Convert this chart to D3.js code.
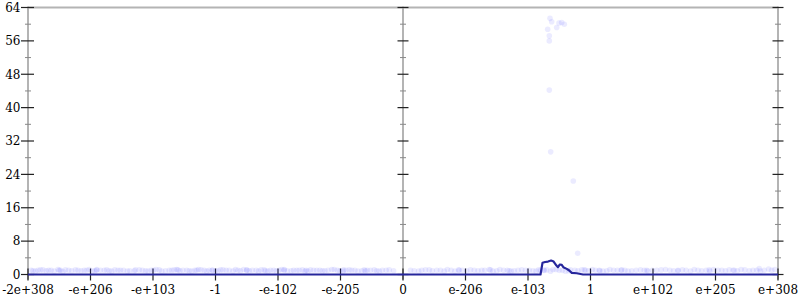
<!DOCTYPE html>
<html><head><meta charset="utf-8">
<script src="https://cdn.jsdelivr.net/npm/d3@7"></script>
<style>
html,body{margin:0;padding:0;background:#fff;}
text{font-family:"DejaVu Serif",serif;font-size:12px;fill:#000;}
</style></head>
<body>
<svg id="c" width="800" height="300"></svg>
<script>
// tick labels along x (positions -6..6 on an index scale)
const xTickPos = [-6,-5,-4,-3,-2,-1,0,1,2,3,4,5,6];
const xTickLabels = ["-2e+308","-e+206","-e+103","-1","-e-102","-e-205","0","e-206","e-103","1","e+102","e+205","e+308"];
const yMajor = [0,8,16,24,32,40,48,56,64];
const yMinor = [4,12,20,28,36,44,52,60];

// histogram line
const lineX = [-6,2.2,2.232,2.275,2.32,2.37,2.41,2.455,2.48,2.51,2.54,2.565,2.62,2.66,2.70,2.78,2.88,6];
const lineY = [0,0,2.8,3.0,3.1,3.35,3.1,2.15,1.75,2.4,2.3,1.75,1.35,0.95,0.4,0.3,0,0];

// scattered points as [x, value] pairs
const bandLeft = [
 [-5.95,1],[-5.92,0.9],[-5.88,0.8],[-5.84,1],[-5.8,1.1],[-5.76,1.1],[-5.71,0.9],[-5.67,1],[-5.63,1],[-5.58,0.8],
 [-5.52,1.2],[-5.5,1],[-5.48,1],[-5.44,0.7],[-5.4,1.1],[-5.35,1],[-5.3,0.9],[-5.24,1.1],[-5.2,1],[-5.15,0.9],
 [-5.1,1],[-5.06,1],[-5.02,1.2],[-4.97,0.8],[-4.93,0.9],[-4.9,1.2],[-4.9,1],[-4.84,1],[-4.78,1],[-4.74,1.1],
 [-4.7,0.9],[-4.66,0.8],[-4.61,1.1],[-4.56,1],[-4.52,1],[-4.47,1],[-4.41,0.8],[-4.37,0.9],[-4.3,0.9],[-4.28,1.1],
 [-4.22,1.1],[-4.17,1],[-4.12,0.9],[-4.08,0.8],[-4.03,1],[-3.99,1],[-3.95,1.2],[-3.9,1.1],[-3.86,0.8],[-3.8,0.9],
 [-3.74,1],[-3.7,1],[-3.66,1.1],[-3.62,1.2],[-3.6,1.1],[-3.57,0.9],[-3.52,1],[-3.46,1],[-3.42,0.9],[-3.38,0.8],
 [-3.33,1],[-3.3,1],[-3.27,1.2],[-3.23,1.1],[-3.18,1],[-3.14,0.8],[-3.1,1],[-3.05,1],[-3.05,1],[-3.0,0.9],
 [-2.96,0.9],[-2.92,1.1],[-2.88,1.1],[-2.83,1],[-2.78,1],[-2.72,0.8],[-2.68,1.2],[-2.64,1],[-2.6,0.9],[-2.55,1.2],
 [-2.5,1],[-2.5,1.1],[-2.46,0.9],[-2.41,1],[-2.35,1],[-2.31,0.8],[-2.27,1.1],[-2.22,1.1],[-2.2,0.9],[-2.16,0.8],
 [-2.12,1],[-2.07,1],[-2.03,0.9],[-1.98,1],[-1.94,1.2],[-1.9,1.2],[-1.9,1],[-1.85,0.9],[-1.79,0.9],[-1.75,1],
 [-1.7,1],[-1.66,1],[-1.61,1.1],[-1.57,0.8],[-1.55,1],[-1.52,0.8],[-1.48,1.1],[-1.43,1],[-1.38,1],[-1.33,1],
 [-1.29,0.9],[-1.25,0.9],[-1.2,1],[-1.14,1.2],[-1.1,1.2],[-1.05,1],[-1.01,0.9],[-0.96,0.8],[-0.95,1.1],[-0.91,1],
 [-0.86,1.1],[-0.82,1],[-0.77,1],[-0.72,0.8],[-0.66,0.9],[-0.62,1.1],[-0.6,0.9],[-0.57,1],[-0.52,1],[-0.46,1.1],
 [-0.42,0.9],[-0.38,0.8],[-0.33,1],[-0.27,1],[-0.22,1.1],[-0.15,0.9]];
const bandRight = [
 [0.12,1],[0.18,0.9],[0.25,0.8],[0.3,1],[0.36,1.1],[0.42,1.1],[0.47,0.9],[0.54,1],[0.6,1],[0.66,0.8],
 [0.71,1.2],[0.77,1],[0.83,0.8],[0.89,1.1],[0.9,1],[0.95,1],[1.02,0.9],[1.08,1.1],[1.14,1],[1.2,0.9],
 [1.26,1],[1.31,1],[1.38,1.2],[1.4,1.1],[1.44,0.8],[1.5,0.9],[1.55,1.2],[1.61,1],[1.67,1],[1.7,0.9],
 [1.73,0.8],[1.78,0.9],[1.84,1],[1.9,1.1],[1.96,1],[2.02,1],[2.08,0.9],[2.13,0.8],[2.17,1.1],[2.2,1],
 [2.25,1],[2.26,1],[2.3,1.1],[2.36,0.8],[2.4,1.2],[2.45,1.2],[2.5,1],[2.55,1],[2.6,0.8],[2.65,0.9],
 [2.68,1.1],[2.75,1],[2.8,0.9],[2.86,1.1],[2.9,1.1],[2.92,1],[2.97,0.9],[3.03,1.2],[3.08,1],[3.14,1],
 [3.15,0.9],[3.2,0.8],[3.26,0.9],[3.31,1.2],[3.37,1],[3.43,1],[3.49,1],[3.5,1.1],[3.55,1],[3.6,0.8],
 [3.66,0.9],[3.73,1],[3.8,1.1],[3.86,1],[3.9,1],[3.92,0.8],[3.99,1],[4.06,1],[4.13,1.1],[4.2,1.2],
 [4.27,1],[4.33,0.9],[4.4,0.9],[4.4,1],[4.47,1.1],[4.53,1],[4.6,0.8],[4.66,1.2],[4.72,1],[4.78,0.9],
 [4.85,1],[4.9,1.1],[4.91,0.8],[4.97,1.2],[5.04,1],[5.1,1],[5.16,0.9],[5.22,1.1],[5.28,1],[5.3,1],
 [5.35,0.9],[5.41,1.2],[5.47,1.1],[5.54,0.9],[5.6,1],[5.66,1],[5.7,1.4],[5.72,0.8],[5.78,1],[5.85,1.3],[5.9,1],[5.95,1.2]];
const outliers = [
 [2.352,61.4],[2.379,60.6],[2.496,60.3],[2.539,60.4],[2.581,60.0],[2.459,59.2],[2.315,58.8],
 [2.341,57.2],[2.341,56.0],[2.341,44.2],[2.363,29.4],[2.725,22.4],[2.795,5.1]];

const svg = d3.select("#c");
const x = d3.scaleLinear().domain([-6,6]).range([28,778]);
const y = d3.scaleLinear().domain([0,64]).range([274.5,7.5]);
const axesX = [-6,0,6];
const grey = "#b4b4b4";

// frame
svg.append("line").attr("x1",x(-6)).attr("x2",x(6)).attr("y1",y(64)).attr("y2",y(64))
  .attr("stroke",grey).attr("stroke-width",2);
svg.selectAll(".vax").data(axesX).join("line")
  .attr("x1",d=>x(d)).attr("x2",d=>x(d)).attr("y1",y(64)-1).attr("y2",y(0)+5)
  .attr("stroke",grey).attr("stroke-width",2);

// y ticks on each vertical axis
axesX.forEach((a,i)=>{
  const l = i===0 ? 7 : 5.5, r = i===0 ? 6 : 5.5;
  svg.selectAll(null).data(yMajor).join("line")
    .attr("x1",x(a)-l).attr("x2",x(a)+r).attr("y1",d=>y(d)).attr("y2",d=>y(d))
    .attr("stroke","#222").attr("stroke-width",1.2);
  svg.selectAll(null).data(yMinor).join("line")
    .attr("x1",x(a)-3).attr("x2",x(a)+3).attr("y1",d=>y(d)).attr("y2",d=>y(d))
    .attr("stroke","#888").attr("stroke-width",1);
});
svg.selectAll(".yl").data(yMajor).join("text")
  .attr("x",20.5).attr("y",d=>y(d)).attr("dy","0.36em").attr("text-anchor","end").text(d=>d);

// x ticks
svg.selectAll(".xt").data(xTickPos).join("line")
  .attr("x1",d=>x(d)).attr("x2",d=>x(d)).attr("y1",y(0)-6).attr("y2",y(0)+6)
  .attr("stroke","#222").attr("stroke-width",1.2);
svg.selectAll(".xl").data(xTickPos).join("text")
  .attr("x",d=>x(d)).attr("y",294).attr("text-anchor","middle").text((d,i)=>xTickLabels[i]);

// points
const allPts = bandLeft.concat(bandRight, outliers);
svg.append("g").selectAll("circle").data(allPts).join("circle")
  .attr("cx",d=>x(d[0])).attr("cy",d=>y(d[1])).attr("r",2.8)
  .attr("fill","rgb(60,60,255)").attr("fill-opacity",0.1);

// line
const pts = lineX.map((d,i)=>[d,lineY[i]]);
svg.append("path").attr("d",d3.line().x(d=>x(d[0])).y(d=>y(d[1]))(pts))
  .attr("fill","none").attr("stroke","#26269c").attr("stroke-width",2.2).attr("stroke-linejoin","round");
</script>
</body></html>
